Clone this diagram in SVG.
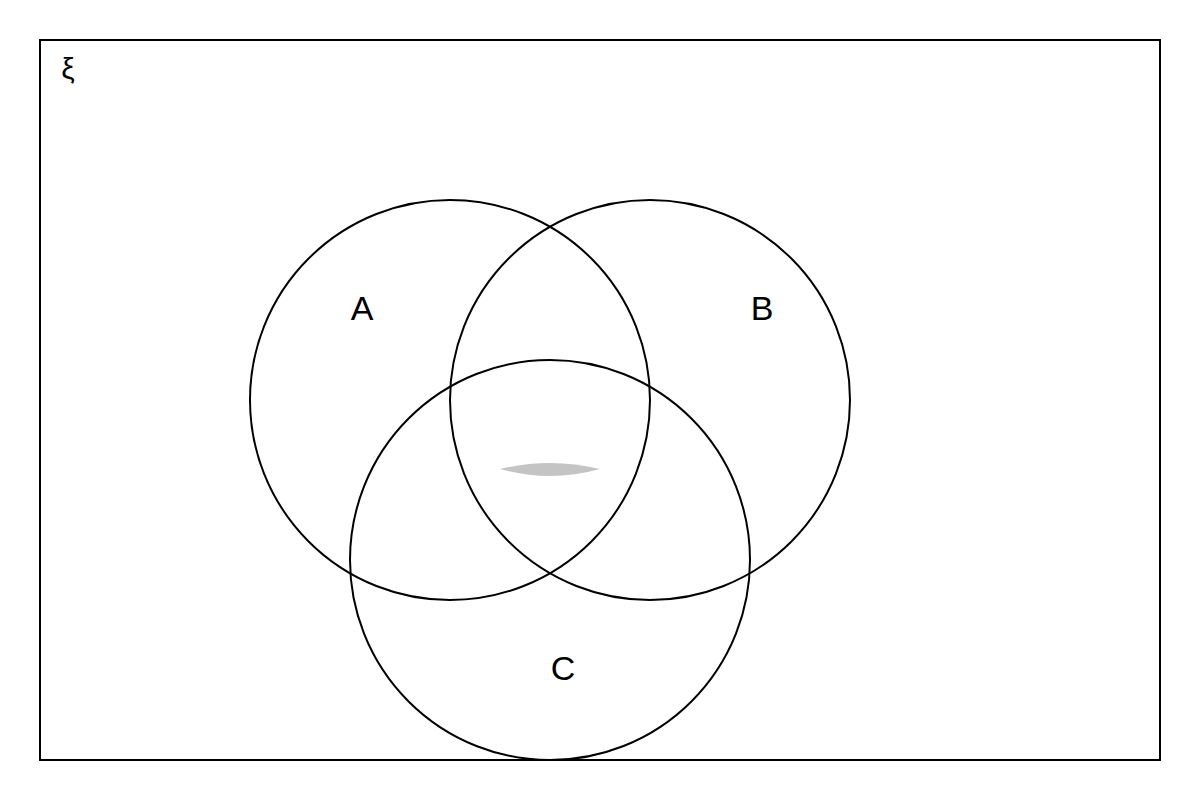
<svg xmlns="http://www.w3.org/2000/svg" width="1200" height="800" viewBox="0 0 1200 800">
<style>
.set{fill:none;stroke:#000;stroke-width:2}
.lbl{font-family:"Liberation Sans",Arial,sans-serif;font-size:34px;fill:#000;text-anchor:middle}
</style>
<rect width="1200" height="800" fill="#fff"/>
<g id="universe">
<rect x="40" y="40" width="1120" height="720" fill="none" stroke="#000" stroke-width="2"/>
<text x="68" y="79" font-family="'Liberation Sans',Arial,sans-serif" font-size="30" text-anchor="middle">ξ</text>
</g>
<g id="shade">
<path d="M500,469 Q550,457 600,469 Q550,483 500,469 Z" fill="#c4c4c4"/>
</g>
<g id="setA">
<circle class="set" cx="450" cy="400" r="200"/>
<text class="lbl" x="362" y="320">A</text>
</g>
<g id="setB">
<circle class="set" cx="650" cy="400" r="200"/>
<text class="lbl" x="762" y="320">B</text>
</g>
<g id="setC">
<circle class="set" cx="550" cy="560" r="200"/>
<text class="lbl" x="563" y="680">C</text>
</g>
<g id="connectors"></g>
</svg>
